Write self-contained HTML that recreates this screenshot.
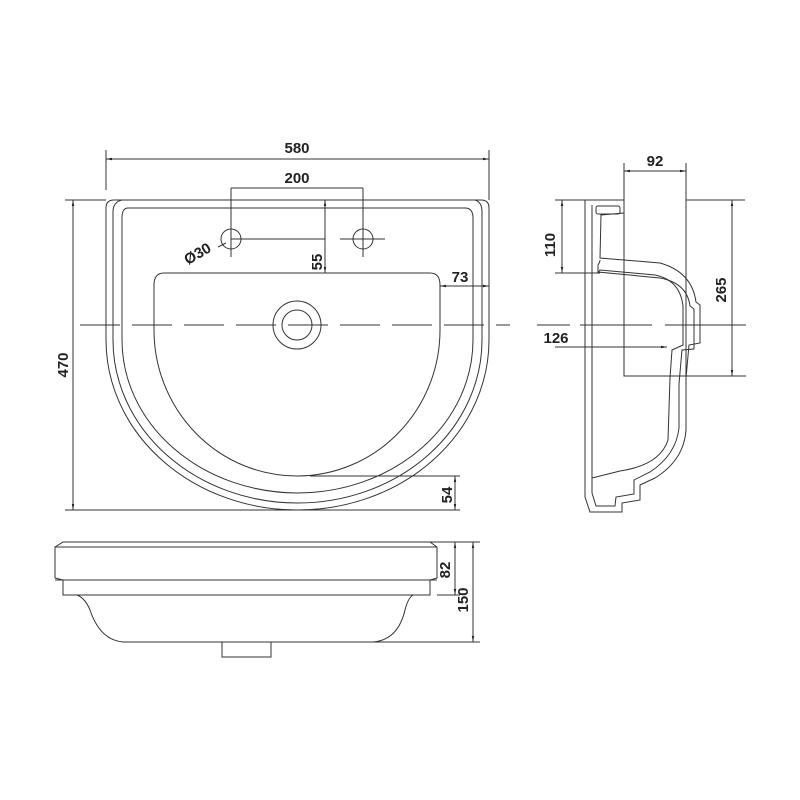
<!DOCTYPE html>
<html><head><style>html,body{margin:0;padding:0;background:#fff}svg{display:block}
text{font-family:"Liberation Sans",Arial,sans-serif;font-weight:bold;font-size:15px;fill:#222}</style></head>
<body>
<svg width="800" height="800" viewBox="0 0 800 800" xmlns="http://www.w3.org/2000/svg">
<defs><marker id="a" viewBox="0 0 10 10" refX="10" refY="5" markerWidth="6" markerHeight="6" orient="auto-start-reverse"><path d="M0,3 L10,5 L0,7z" fill="#222"/></marker></defs>
<g fill="none" stroke="#333" stroke-width="1">
<!-- top view -->
<path d="M114,200 L481,200 Q489,200 489,208 L489,340 A191.5,170 0 0 1 106,340 L106,208 Q106,200 114,200 Z"/>
<path d="M122,200 L475,200 Q482,202 482,212 L482,340 A184.5,163 0 0 1 113,340 L113,212 Q113,202 122,200"/>
<path d="M128,208 L465,208 Q473,208 473,218 L473,340 A175.5,153 0 0 1 122,340 L122,218 Q122,208 128,208 Z"/>
<path d="M164,273 L430,273 Q440,273 440,285 L440,330 A143,146 0 0 1 154,330 L154,285 Q154,273 164,273 Z"/>
<circle cx="297" cy="325" r="24"/><circle cx="297" cy="325" r="15"/>
<circle cx="231" cy="239" r="10"/><circle cx="363" cy="239" r="10"/>
<path d="M340,239 L385,239 M363,225 L363,257 M231,188 L231,257 M363,188 L363,225 M231,239 L325,239"/>
<path d="M80,325 L510,325" stroke-dasharray="40,12"/>
<path d="M106,150 L106,190 M489,150 L489,200"/>
<path d="M106,159 L489,159" marker-start="url(#a)" marker-end="url(#a)"/>
<path d="M231,188 L363,188"/>
<path d="M325,200 L325,273" marker-start="url(#a)" marker-end="url(#a)"/>
<path d="M440,286 L489,286" marker-start="url(#a)" marker-end="url(#a)"/>
<path d="M73,200 L73,510" marker-start="url(#a)" marker-end="url(#a)"/>
<path d="M65,200 L106,200 M65,510 L460,510 M310,476 L460,476"/>
<path d="M455,476 L455,510" marker-start="url(#a)" marker-end="url(#a)"/>
<path d="M218,247 L226,243"/>
<!-- side view -->
<path d="M624,171 L686,171" marker-start="url(#a)" marker-end="url(#a)"/>
<path d="M624,163 L624,376 L746,376 M686,163 L686,376 M686,200 L745,200 M555,200 L624,200 M555,273 L600,273"/>
<path d="M562,200 L562,273" marker-start="url(#a)" marker-end="url(#a)"/>
<path d="M732,200 L732,376" marker-start="url(#a)" marker-end="url(#a)"/>
<path d="M555,347 L667,347" marker-end="url(#a)"/>
<path d="M537,325 L570,325 M580,325 L652,325 M665,325 L746,325"/>
<path d="M585,200 L585,497 L590,512 L622,512 L622,503 L640,500 L640,485 L655,478 Q684,460 686,430 L686,378 L689,345 L700,343 L700,305 L696,302 Q692,272 660,263 L600,258 L601,215 L624,213 L624,200 Z"/>
<path d="M592,205 L592,493 L596,506 L615,506 L616,497 L634,494 L634,480 L650,472 Q676,455 679,428 L679,384 L682,350 L694,349 L694,309 L690,306 Q687,283 660,278 L598,272 L598,265 Q600,262 600,260"/>
<rect x="596" y="206" width="24" height="8" rx="2"/>
<path d="M598,273 L600,270 L655,275 Q680,280 683,306 L683,345 L672,350 L670,378 L668,440 Q660,465 620,471 L592,478"/>
<!-- front view -->
<path d="M63,542 L430,542 L437,547 L437,578 L430,580 L430,595 L63,595 L63,580 L55,578 L55,547 Z"/>
<path d="M55,547 L437,547 M55,580 L437,580"/>
<path d="M77,595 Q85,598 90,610 Q100,640 123,642 L373,642 Q398,640 405,610 Q408,598 413,595"/>
<path d="M222,642 L222,657 L271,657 L271,642"/>
<path d="M430,542 L480,542 M437,595 L460,595 M373,642 L480,642"/>
<path d="M455,542 L455,595" marker-start="url(#a)" marker-end="url(#a)"/>
<path d="M473,542 L473,642" marker-start="url(#a)" marker-end="url(#a)"/>
</g>
<text x="297" y="153" text-anchor="middle">580</text>
<text x="297" y="183" text-anchor="middle">200</text>
<text x="460" y="282" text-anchor="middle">73</text>
<text transform="translate(322,262) rotate(-90)" text-anchor="middle">55</text>
<text transform="translate(68,365) rotate(-90)" text-anchor="middle">470</text>
<text transform="translate(452,495) rotate(-90)" text-anchor="middle">54</text>
<text transform="translate(200,258) rotate(-30)" text-anchor="middle">Ø30</text>
<text x="655" y="166" text-anchor="middle">92</text>
<text transform="translate(555,245) rotate(-90)" text-anchor="middle">110</text>
<text transform="translate(726,290) rotate(-90)" text-anchor="middle">265</text>
<text x="556" y="343" text-anchor="middle">126</text>
<text transform="translate(450,570) rotate(-90)" text-anchor="middle">82</text>
<text transform="translate(468,600) rotate(-90)" text-anchor="middle">150</text>
</svg>
</body></html>
